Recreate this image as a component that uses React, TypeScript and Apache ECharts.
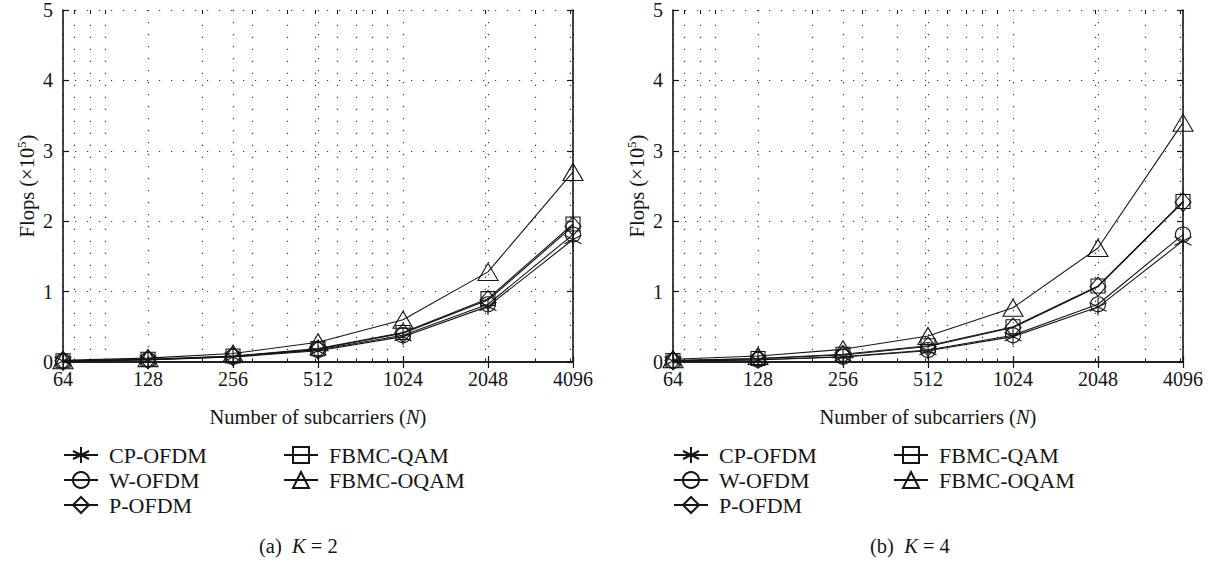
import React, { useEffect, useRef } from "react";
import * as echarts from "echarts";

const SUBCARRIERS = [64, 128, 256, 512, 1024, 2048, 4096];
const SERIES_NAMES = ["CP-OFDM", "W-OFDM", "P-OFDM", "FBMC-QAM", "FBMC-OQAM"];

// K = 2 (Flops ×10^5)
const K2_CP_OFDM = [0.013, 0.03, 0.07, 0.16, 0.36, 0.79, 1.74];
const K2_W_OFDM = [0.015, 0.033, 0.075, 0.17, 0.38, 0.82, 1.81];
const K2_P_OFDM = [0.016, 0.036, 0.08, 0.18, 0.41, 0.88, 1.93];
const K2_FBMC_QAM = [0.017, 0.038, 0.085, 0.19, 0.42, 0.9, 1.96];
const K2_FBMC_OQAM = [0.025, 0.055, 0.12, 0.28, 0.6, 1.28, 2.7];

// K = 4 (Flops ×10^5)
const K4_CP_OFDM = [0.013, 0.03, 0.07, 0.16, 0.36, 0.78, 1.72];
const K4_W_OFDM = [0.015, 0.033, 0.075, 0.17, 0.38, 0.82, 1.81];
const K4_P_OFDM = [0.021, 0.047, 0.1, 0.22, 0.49, 1.07, 2.27];
const K4_FBMC_QAM = [0.022, 0.05, 0.11, 0.23, 0.5, 1.08, 2.28];
const K4_FBMC_OQAM = [0.04, 0.085, 0.18, 0.37, 0.77, 1.62, 3.4];

const Y_MIN = 0;
const Y_MAX = 5;
const Y_INTERVAL = 1;
const X_MIN = 64;
const X_MAX = 4096;
// MATLAB-style minor log grid positions (2..9 × 10^k), inside the range
const MINOR_X = [70, 80, 90, 200, 300, 400, 500, 600, 700, 800, 900, 2000, 3000, 4000];

const FONT = "'Liberation Serif', 'DejaVu Serif', serif";
const INK = "#151515";

const SYMBOLS: any[] = [
  { symbol: "path://M10,0L10,20M1.34,5L18.66,15M1.34,15L18.66,5", size: 17 },
  { symbol: "circle", size: 15 },
  { symbol: "diamond", size: [16, 19] },
  { symbol: "rect", size: 14 },
  { symbol: "triangle", size: [20, 17] },
];

const PANELS = [
  { data: [K2_CP_OFDM, K2_W_OFDM, K2_P_OFDM, K2_FBMC_QAM, K2_FBMC_OQAM], caption: "2", left: 63, capX: 301 },
  { data: [K4_CP_OFDM, K4_W_OFDM, K4_P_OFDM, K4_FBMC_QAM, K4_FBMC_OQAM], caption: "4", left: 673, capX: 912 },
];

const GRID_W = 510;
const GRID_TOP = 10;
const GRID_H = 352;

export default function App() {
  const ref = useRef<HTMLDivElement>(null);
  useEffect(() => {
    if (!ref.current) return;
    const chart = echarts.init(ref.current, null, { renderer: "svg" });

    const dotted = { color: "#333", width: 1.2, type: [1.2, 10.8] as any };
    const axisLine = { show: true, lineStyle: { color: INK, width: 1.6 } };

    const grids: any[] = [];
    const xAxes: any[] = [];
    const yAxes: any[] = [];
    const series: any[] = [];
    const legends: any[] = [];
    const graphics: any[] = [];

    PANELS.forEach((p, gi) => {
      grids.push({ left: p.left, top: GRID_TOP, width: GRID_W, height: GRID_H, containLabel: false });
      const bx = xAxes.length;
      xAxes.push({
        type: "log",
        logBase: 2,
        gridIndex: gi,
        min: X_MIN,
        max: X_MAX,
        splitNumber: 6,
        position: "bottom",
        axisLine,
        axisTick: { show: true, inside: true, length: 6, lineStyle: { color: INK, width: 1.2 } },
        axisLabel: {
          show: true,
          margin: 7,
          color: INK,
          fontFamily: FONT,
          fontSize: 20,
          formatter: (v: number) => String(Math.round(v)),
        },
        splitLine: { show: true, lineStyle: dotted },
        name: "{a|Number of subcarriers (}{i|N}{a|)}",
        nameLocation: "middle",
        nameGap: 44,
        nameTextStyle: {
          rich: {
            a: { fontFamily: FONT, fontSize: 20.5, color: INK },
            i: { fontFamily: FONT, fontSize: 20.5, color: INK, fontStyle: "italic" },
          },
        },
      });
      xAxes.push({
        type: "log",
        logBase: 2,
        gridIndex: gi,
        min: X_MIN,
        max: X_MAX,
        splitNumber: 6,
        position: "top",
        axisLine,
        axisTick: { show: true, inside: true, length: 6, lineStyle: { color: INK, width: 1.2 } },
        axisLabel: { show: false },
        splitLine: { show: false },
      });
      const by = yAxes.length;
      yAxes.push({
        type: "value",
        gridIndex: gi,
        min: Y_MIN,
        max: Y_MAX,
        interval: Y_INTERVAL,
        position: "left",
        axisLine,
        axisTick: { show: true, inside: true, length: 6, lineStyle: { color: INK, width: 1.2 } },
        axisLabel: { show: true, margin: 10, color: INK, fontFamily: FONT, fontSize: 20 },
        splitLine: { show: true, lineStyle: dotted },
        name: "{a|Flops (×10}{s|5}{a|)}",
        nameLocation: "middle",
        nameRotate: 90,
        nameGap: 24,
        nameTextStyle: {
          rich: {
            a: { fontFamily: FONT, fontSize: 20.5, color: INK, lineHeight: 24 },
            s: { fontFamily: FONT, fontSize: 13, color: INK, verticalAlign: "top", lineHeight: 24 },
          },
        },
      });
      yAxes.push({
        type: "value",
        gridIndex: gi,
        min: Y_MIN,
        max: Y_MAX,
        interval: Y_INTERVAL,
        position: "right",
        axisLine,
        axisTick: { show: true, inside: true, length: 6, lineStyle: { color: INK, width: 1.2 } },
        axisLabel: { show: false },
        splitLine: { show: false },
      });

      const markData: any[] = [];
      MINOR_X.forEach((v) => {
        markData.push({ xAxis: v, lineStyle: dotted });
        markData.push([{ coord: [v, Y_MIN] }, { coord: [v, Y_MIN + 0.05] }]);
        markData.push([{ coord: [v, Y_MAX] }, { coord: [v, Y_MAX - 0.05] }]);
      });

      SERIES_NAMES.forEach((name, si) => {
        const s: any = {
          type: "line",
          name,
          xAxisIndex: bx,
          yAxisIndex: by,
          data: SUBCARRIERS.map((n, i) => [n, p.data[si][i]]),
          symbol: SYMBOLS[si].symbol,
          symbolSize: SYMBOLS[si].size,
          showAllSymbol: true,
          color: INK,
          lineStyle: { color: INK, width: 1.1 },
          itemStyle: { color: "rgba(0,0,0,0)", borderColor: INK, borderWidth: 1.1 },
          emphasis: { disabled: true },
          z: 3,
        };
        if (si === 0) {
          s.markLine = {
            silent: true,
            symbol: ["none", "none"],
            label: { show: false },
            lineStyle: { color: INK, width: 1, type: "solid" },
            emphasis: { disabled: true },
            animation: false,
            data: markData,
            z: 1,
          };
        }
        series.push(s);
      });

      const legendBase = {
        orient: "vertical",
        top: 443,
        itemWidth: 34,
        itemHeight: 20,
        itemGap: 1,
        padding: 0,
        selectedMode: false,
        textStyle: { fontFamily: FONT, fontSize: 22, color: INK, padding: [0, 0, 0, 6], lineHeight: 24 },
      };
      legends.push({ ...legendBase, left: p.left, data: SERIES_NAMES.slice(0, 3) });
      legends.push({ ...legendBase, left: p.left + 220, data: SERIES_NAMES.slice(3) });

      graphics.push({
        type: "text",
        left: p.capX - 42,
        top: 535,
        style: {
          text: `{a|(${gi === 0 ? "a" : "b"})  }{i|K}{a| = ${p.caption}}`,
          rich: {
            a: { fontFamily: FONT, fontSize: 20.5, fill: INK },
            i: { fontFamily: FONT, fontSize: 20.5, fill: INK, fontStyle: "italic" },
          },
        },
      });
    });

    chart.setOption({
      animation: false,
      backgroundColor: "#ffffff",
      grid: grids,
      xAxis: xAxes,
      yAxis: yAxes,
      series,
      legend: legends,
      graphic: graphics,
    });

    return () => chart.dispose();
  }, []);

  return (
    <div
      ref={ref}
      style={{ position: "fixed", left: 0, top: 0, width: 1218, height: 565, background: "#fff" }}
    />
  );
}
